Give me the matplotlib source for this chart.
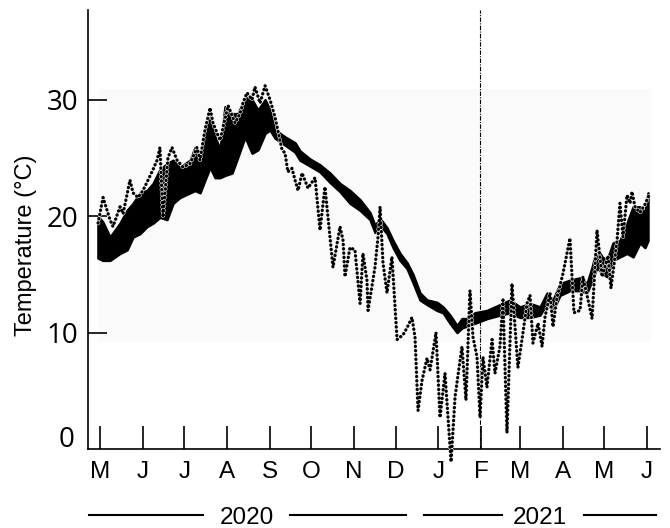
import numpy as np
import matplotlib
matplotlib.use("Agg")
import matplotlib.pyplot as plt
import matplotlib.patheffects as pe
from matplotlib.lines import Line2D
from matplotlib.patches import Rectangle

# ---------------- data ----------------
start = np.datetime64('2020-05-01')
month_starts = np.arange(np.datetime64('2020-05'), np.datetime64('2021-07'), dtype='datetime64[M]')
month_labels = ["M", "J", "J", "A", "S", "O", "N", "D", "J", "F", "M", "A", "M", "J"]
year_labels = ["2020", "2021"]
y_ticks = [10, 20, 30]
y_tick_labels = ["10", "20", "30"]
y_label = "Temperature (°C)"

# days since 2020-05-01 ; solid series given as daily range (high / low)
water_day = [-1.5, 2.0, 7.2, 14.5, 19.6, 23.9, 29.0, 34.0, 38.4, 43.4, 48.5, 52.9, 57.9, 65.2,
             68.8, 72.4, 76.0, 79.7, 83.3, 86.9, 90.5, 95.6, 99.9, 105.0, 110.1, 114.4, 119.5,
             123.1, 126.7, 134.0, 141.2, 144.8, 152.1, 159.3, 166.5, 173.8, 181.0, 188.3, 195.5,
             199.1, 202.8, 207.8, 212.2, 217.2, 222.3, 226.6, 231.7, 236.8, 244.0, 248.4, 253.4,
             258.5, 262.1, 266.5, 271.5, 280.2, 289.6, 296.9, 304.1, 311.4, 318.6, 323.7, 328.0,
             333.1, 340.3, 347.6, 352.6, 356.3, 359.9, 363.5, 367.1, 371.5, 376.5, 381.6, 386.0,
             391.0, 394.6, 396.8]
water_hi = [20.0, 19.5, 18.2, 19.4, 20.5, 21.1, 22.0, 22.2, 22.8, 24.0, 24.5, 24.8, 24.2, 24.8,
            25.9, 25.0, 27.4, 28.5, 26.8, 25.7, 29.4, 28.8, 28.8, 30.2, 30.0, 29.1, 30.0,
            29.1, 27.4, 26.8, 26.3, 25.6, 24.9, 24.4, 23.7, 22.8, 22.2, 21.4, 20.3,
            19.2, 19.8, 19.0, 17.9, 16.8, 16.0, 15.0, 13.4, 12.8, 12.6, 12.2, 11.5,
            10.6, 11.2, 11.2, 11.7, 11.9, 12.4, 12.8, 12.2, 12.5, 12.2, 13.4, 12.8,
            14.2, 14.5, 14.7, 14.2, 15.6, 17.3, 16.5, 16.2, 17.7, 17.9, 19.4, 20.8,
            20.8, 20.3, 22.0]
water_lo = [16.4, 16.2, 16.2, 16.8, 17.1, 18.2, 18.5, 19.1, 19.4, 19.9, 19.7, 21.1, 21.6, 22.0,
            22.2, 22.0, 23.1, 24.2, 23.3, 23.3, 23.5, 23.7, 25.1, 26.8, 25.4, 25.7, 27.1,
            27.4, 26.7, 26.1, 25.5, 24.8, 24.3, 23.8, 22.9, 22.1, 21.1, 20.5, 19.7,
            18.6, 19.2, 18.5, 17.3, 16.2, 15.5, 14.3, 12.8, 12.4, 11.9, 11.7, 10.8,
            10.0, 10.4, 10.6, 10.8, 11.2, 11.5, 11.7, 11.3, 11.3, 11.5, 12.5, 11.9,
            13.2, 13.6, 13.6, 13.4, 14.5, 15.6, 15.1, 14.8, 16.2, 16.5, 16.8, 16.5,
            17.7, 17.3, 17.9]

# dotted series
air_day = [-1.4, 2.2, 7.2, 9.4, 14.5, 16.7, 21.7, 23.9, 27.5, 31.1, 34.8, 38.4, 41.3, 43.4,
           45.6, 49.2, 52.1, 55.8, 60.1, 65.2, 70.2, 72.4, 76.0, 79.7, 81.8, 86.9, 92.7, 97.8,
           101.4, 103.5, 106.4, 110.1, 112.2, 115.9, 119.5, 123.1, 126.7, 131.8, 134.0, 136.0,
           139.0, 141.2, 143.4, 146.3, 150.6, 155.7, 159.3, 162.9, 168.7, 173.8, 176.0, 177.4,
           181.0, 184.6, 188.3, 190.4, 193.3, 194.1, 199.1, 201.3, 202.8, 204.9, 207.8, 211.4,
           215.1, 219.4, 222.3, 225.9, 228.1, 230.3, 233.2, 236.8, 239.0, 243.3, 246.2, 249.8,
           254.2, 257.1, 262.1, 265.0, 267.9, 270.1, 273.0, 275.2, 277.3, 280.2, 283.9, 286.0,
           289.6, 291.8, 294.7, 298.3, 302.6, 306.3, 309.2, 311.4, 313.5, 317.2, 320.1, 322.2,
           325.9, 328.0, 330.9, 335.3, 340.3, 343.2, 347.6, 349.7, 353.4, 356.3, 359.9, 363.5,
           367.9, 370.0, 374.4, 376.5, 378.7, 381.6, 383.8, 385.2, 387.4, 391.0, 394.6, 398.3]
air_temp = [19.4, 21.6, 19.7, 19.1, 20.8, 20.2, 23.1, 22.0, 21.6, 22.2, 23.1, 24.0, 24.8, 25.9,
            19.9, 25.0, 25.9, 24.8, 24.2, 24.5, 25.9, 24.8, 27.4, 29.3, 28.0, 26.5, 29.5, 28.0,
            28.8, 29.7, 30.6, 30.0, 31.1, 29.7, 31.2, 30.0, 28.5, 25.7, 25.4, 23.8,
            24.1, 23.1, 22.2, 23.7, 22.4, 23.3, 18.8, 22.5, 15.6, 19.1, 17.9, 14.8,
            17.3, 17.1, 12.5, 16.8, 14.5, 11.9, 15.6, 18.2, 20.8, 16.0, 13.4, 16.5,
            9.4, 9.8, 10.4, 11.3, 9.6, 3.3, 5.9, 7.8, 6.8, 10.0, 2.7, 6.5,
            -1.1, 4.5, 8.8, 4.2, 13.6, 9.6, 7.9, 2.7, 7.9, 5.3, 9.4, 6.5,
            8.8, 12.8, 1.4, 14.2, 7.0, 10.0, 12.5, 13.2, 9.1, 10.8, 8.8, 11.3,
            13.4, 10.5, 13.0, 15.1, 18.1, 11.7, 11.9, 14.8, 12.8, 11.2, 18.8, 14.8,
            16.6, 13.8, 17.9, 21.1, 18.2, 21.8, 21.1, 22.1, 20.8, 20.3, 21.0, 22.0]

marker_day = 275.3  # vertical dash-dot reference line (early Feb 2021)

# ---------------- figure ----------------
W, H = 670, 528
fig = plt.figure(figsize=(W / 100, H / 100), dpi=100)
ax = fig.add_axes([88 / W, 1 - 449 / H, (660 - 88) / W, (449 - 10) / H])

# faint background panel
ax.add_patch(Rectangle((0.0175, 0.244), 0.967, 0.576, transform=ax.transAxes,
                       facecolor='#fafafa', edgecolor='none', zorder=0))

# solid series (thick, diel range)
ax.fill_between(water_day, water_lo, water_hi, facecolor='black', edgecolor='black',
                linewidth=1.8, zorder=2)

# dotted series
ax.plot(air_day, air_temp, color='black', lw=2.3, linestyle=(0, (0.1, 1.25)),
        dash_capstyle='round', clip_on=False, zorder=3,
        path_effects=[pe.Stroke(linewidth=3.1, foreground='#efefef'), pe.Normal()])

# vertical dash-dot line
ax.axvline(marker_day, color='black', lw=0.8, linestyle=(0, (4, 1.2, 1, 1.2)), zorder=1)

# axes limits
ax.set_xlim(-8.7, 405.5)
ax.set_ylim(0, 37.7)

for s in ['top', 'right']:
    ax.spines[s].set_visible(False)
for s in ['left', 'bottom']:
    ax.spines[s].set_linewidth(1.2)

# x ticks at month starts
month_days = (month_starts.astype('datetime64[D]') - start).astype(int)
ax.set_xticks(month_days)
ax.set_xticklabels(month_labels, fontfamily='Liberation Sans', fontsize=17.5)
ax.tick_params(axis='x', direction='in', length=16.5, width=1.2, pad=9)

# y ticks
ax.set_yticks(y_ticks)
ax.set_yticklabels(y_tick_labels, fontfamily='Open Sans', fontsize=20)
ax.tick_params(axis='y', direction='in', length=13.7, width=1.2, pad=7)

# "0" label sits slightly above the axis
fig.text(75 / W, 1 - 447 / H, "0", ha='right', va='baseline',
         fontfamily='Open Sans', fontsize=20)

# y-axis label
fig.text(26 / W, 1 - 245 / H, y_label, rotation=90, ha='center', va='center',
         fontfamily='Liberation Sans', fontsize=17)

# year labels with lines
ly = 1 - 515 / H
ty = 1 - 524 / H
for (x0, x1) in [(89, 203), (290, 406), (424, 502), (584, 656)]:
    fig.add_artist(Line2D([x0 / W, x1 / W], [ly, ly], transform=fig.transFigure,
                          color='black', lw=1.5))
for lab, xc in zip(year_labels, [247, 540]):
    fig.text(xc / W, ty, lab, ha='center', va='baseline',
             fontfamily='Liberation Sans', fontsize=17.5)

fig.savefig('out.png', dpi=100)
